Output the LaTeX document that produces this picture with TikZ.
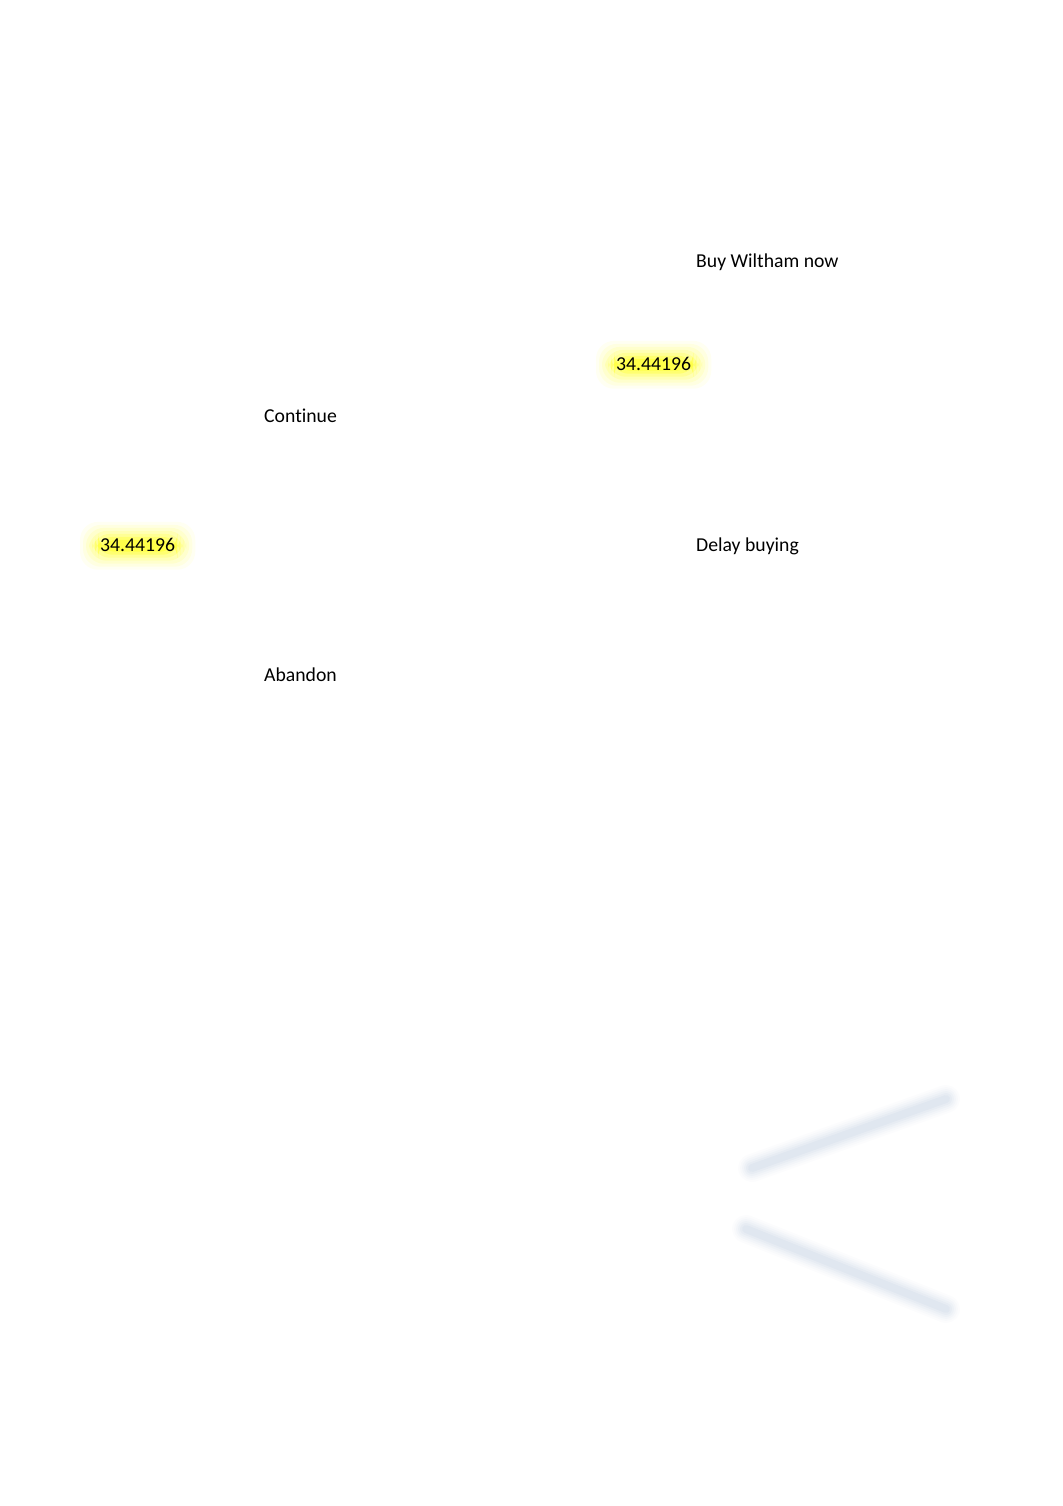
\documentclass[tikz,border=0pt]{standalone}
\usepackage{fontspec}
\setmainfont[Ligatures=NoCommon]{Carlito}
\definecolor{glowy}{RGB}{255,255,0}
\definecolor{lineblue}{RGB}{200,212,228}
\tikzset{
  lbl/.style={anchor=mid west, inner sep=0pt, font=\fontsize{19.7}{23}\selectfont},
  num/.style={anchor=mid west, inner sep=0pt, font=\fontsize{19.7}{23}\selectfont},
}
\newcommand{\glowat}[1]{%
  \foreach \s/\o in {20/0.05,17/0.07,14/0.09,11/0.12,8/0.17,5/0.25,2/0.35}{
    \fill[glowy, opacity=\o, rounded corners=18pt]
      ([xshift=-\s pt, yshift=-\s pt+2pt]#1.south west) rectangle ([xshift=\s pt, yshift=\s pt-4pt]#1.north east);
  }}
\newcommand{\blurline}[2]{%
  \foreach \w/\o in {28/0.06,24/0.08,20/0.1,16/0.13,12/0.17,8/0.22}{
    \draw[lineblue, line width=\w pt, opacity=\o, line cap=round] (#1) -- (#2);
  }}
\begin{document}
\begin{tikzpicture}[x=1pt,y=-1pt]
\useasboundingbox (0,0) rectangle (1062,1506);
% texts
\node[lbl] (buy) at (696,265) {Buy Wiltham now};
\node[lbl] (delay) at (696,549) {Delay buying};
\node[lbl] (cont) at (264,420) {Continue};
\node[lbl] (aband) at (264,679) {Abandon};
% glows and numbers
\node[num, opacity=0] (n1tmp) at (616,368) {34.44196};
\node[num, opacity=0] (n2tmp) at (100,549) {34.44196};
\glowat{n1tmp}
\glowat{n2tmp}
\node[num] (n1) at (616,368) {34.44196};
\node[num] (n2) at (100,549) {34.44196};
% blurred lines
\coordinate (l1a) at (752,1168);
\coordinate (l1b) at (946,1099);
\coordinate (l2a) at (746,1229);
\coordinate (l2b) at (946,1309);
\blurline{l1a}{l1b}
\blurline{l2a}{l2b}
\end{tikzpicture}
\end{document}
